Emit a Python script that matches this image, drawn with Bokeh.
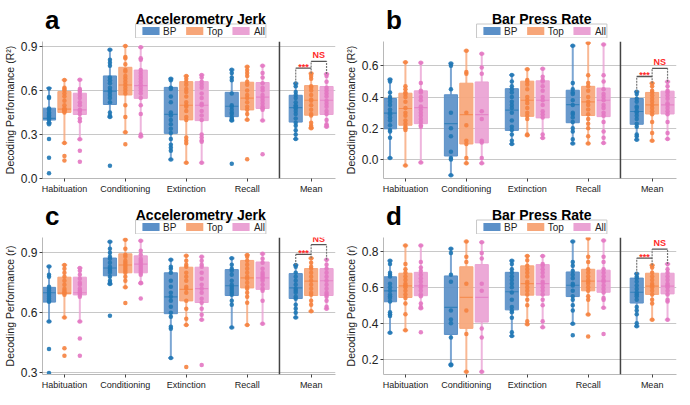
from bokeh.plotting import figure
from bokeh.models import (ColumnDataSource, FixedTicker, Span, Label,
                          NumeralTickFormatter)
from bokeh.core.properties import value
from bokeh.layouts import column, row
from bokeh.embed import file_html
from bokeh.resources import INLINE

# ---------------- data ----------------
categories = ["Habituation", "Conditioning", "Extinction", "Recall", "Mean"]
groups = ["BP", "Top", "All"]

# box stats per category: (whisker low, q1, median, q3, whisker high)
a_bp_box = [(0.378, 0.399, 0.41, 0.48, 0.618), (0.42, 0.505, 0.597, 0.70, 0.879),
            (0.129, 0.308, 0.437, 0.622, 0.68), (0.395, 0.422, 0.493, 0.588, 0.742),
            (0.27, 0.385, 0.484, 0.568, 0.649)]
a_top_box = [(0.243, 0.451, 0.474, 0.593, 0.672), (0.316, 0.57, 0.638, 0.759, 0.904),
             (0.108, 0.40, 0.50, 0.661, 0.70), (0.401, 0.468, 0.549, 0.657, 0.763),
             (0.343, 0.432, 0.534, 0.634, 0.717)]
a_all_box = [(0.268, 0.437, 0.468, 0.582, 0.674), (0.287, 0.547, 0.634, 0.74, 0.896),
             (0.108, 0.395, 0.50, 0.661, 0.707), (0.395, 0.478, 0.555, 0.655, 0.77),
             (0.353, 0.437, 0.534, 0.628, 0.713)]

b_bp_box = [(0.01, 0.197, 0.298, 0.391, 0.512), (-0.10, 0.023, 0.23, 0.415, 0.615),
            (0.10, 0.187, 0.317, 0.454, 0.541), (0.103, 0.236, 0.352, 0.444, 0.728),
            (0.127, 0.226, 0.308, 0.391, 0.434)]
b_top_box = [(-0.037, 0.22, 0.327, 0.425, 0.623), (-0.023, 0.10, 0.288, 0.489, 0.697),
             (0.156, 0.277, 0.38, 0.502, 0.578), (0.103, 0.282, 0.37, 0.469, 0.746),
             (0.121, 0.292, 0.35, 0.43, 0.489)]
b_all_box = [(-0.018, 0.23, 0.333, 0.44, 0.62), (-0.023, 0.107, 0.288, 0.497, 0.678),
             (0.138, 0.267, 0.38, 0.504, 0.582), (0.107, 0.275, 0.38, 0.458, 0.736),
             (0.132, 0.292, 0.35, 0.438, 0.498)]

c_bp_box = [(0.556, 0.653, 0.70, 0.727, 0.831), (0.744, 0.785, 0.824, 0.874, 0.956),
            (0.373, 0.595, 0.679, 0.80, 0.865), (0.526, 0.686, 0.735, 0.816, 0.873),
            (0.576, 0.671, 0.724, 0.796, 0.839)]
c_top_box = [(0.576, 0.694, 0.698, 0.778, 0.839), (0.727, 0.80, 0.839, 0.895, 0.966),
             (0.538, 0.659, 0.717, 0.828, 0.885), (0.538, 0.724, 0.775, 0.862, 0.889),
             (0.607, 0.686, 0.758, 0.821, 0.873)]
c_all_box = [(0.556, 0.689, 0.70, 0.778, 0.824), (0.747, 0.80, 0.843, 0.885, 0.961),
             (0.564, 0.651, 0.721, 0.828, 0.88), (0.544, 0.717, 0.775, 0.854, 0.895),
             (0.62, 0.686, 0.76, 0.821, 0.865)]

d_bp_box = [(0.346, 0.519, 0.58, 0.658, 0.748), (0.17, 0.337, 0.488, 0.663, 0.814),
            (0.329, 0.474, 0.575, 0.683, 0.748), (0.397, 0.548, 0.611, 0.685, 0.855),
            (0.383, 0.512, 0.572, 0.651, 0.675)]
d_top_box = [(0.36, 0.543, 0.608, 0.678, 0.832), (0.13, 0.371, 0.543, 0.714, 0.855),
             (0.394, 0.556, 0.62, 0.719, 0.774), (0.448, 0.58, 0.634, 0.70, 0.872),
             (0.419, 0.56, 0.606, 0.678, 0.723)]
d_all_box = [(0.483, 0.553, 0.608, 0.683, 0.832), (0.13, 0.406, 0.543, 0.726, 0.85),
             (0.377, 0.556, 0.62, 0.726, 0.774), (0.486, 0.572, 0.634, 0.695, 0.86),
             (0.419, 0.563, 0.606, 0.678, 0.73)]

# individual points per category
a_bp_pts = [[0.615, 0.557, 0.55, 0.478, 0.47, 0.45, 0.44, 0.43, 0.42, 0.41, 0.40, 0.38, 0.37, 0.27, 0.141, 0.035],
            [0.879, 0.81, 0.79, 0.77, 0.69, 0.67, 0.65, 0.62, 0.60, 0.59, 0.57, 0.55, 0.52, 0.45, 0.43, 0.42, 0.087],
            [0.68, 0.67, 0.62, 0.61, 0.56, 0.52, 0.45, 0.43, 0.40, 0.37, 0.34, 0.31, 0.27, 0.23, 0.21, 0.19, 0.129],
            [0.742, 0.72, 0.69, 0.67, 0.58, 0.50, 0.49, 0.47, 0.45, 0.44, 0.42, 0.41, 0.40, 0.395, 0.10],
            [0.649, 0.63, 0.59, 0.57, 0.55, 0.52, 0.50, 0.49, 0.48, 0.46, 0.44, 0.41, 0.38, 0.36, 0.33, 0.30, 0.27]]
a_top_pts = [[0.672, 0.62, 0.61, 0.60, 0.58, 0.56, 0.53, 0.50, 0.48, 0.47, 0.465, 0.46, 0.45, 0.243, 0.154, 0.123],
             [0.904, 0.83, 0.82, 0.78, 0.74, 0.73, 0.70, 0.68, 0.66, 0.64, 0.62, 0.60, 0.58, 0.50, 0.42, 0.316, 0.233],
             [0.70, 0.68, 0.66, 0.64, 0.61, 0.59, 0.56, 0.52, 0.50, 0.49, 0.46, 0.42, 0.40, 0.28, 0.26, 0.24, 0.108],
             [0.763, 0.74, 0.72, 0.70, 0.66, 0.64, 0.60, 0.57, 0.55, 0.52, 0.49, 0.47, 0.44, 0.401, 0.131],
             [0.717, 0.70, 0.68, 0.63, 0.62, 0.60, 0.57, 0.54, 0.53, 0.50, 0.47, 0.44, 0.43, 0.38, 0.36, 0.35, 0.343]]
a_all_pts = [[0.674, 0.61, 0.60, 0.59, 0.57, 0.55, 0.52, 0.50, 0.47, 0.46, 0.44, 0.41, 0.39, 0.268, 0.19, 0.114],
             [0.896, 0.82, 0.81, 0.74, 0.72, 0.70, 0.68, 0.66, 0.64, 0.62, 0.60, 0.58, 0.55, 0.50, 0.44, 0.30, 0.287],
             [0.707, 0.69, 0.66, 0.64, 0.62, 0.58, 0.55, 0.51, 0.50, 0.46, 0.43, 0.40, 0.30, 0.28, 0.26, 0.25, 0.108],
             [0.77, 0.72, 0.69, 0.65, 0.62, 0.60, 0.57, 0.55, 0.53, 0.51, 0.49, 0.48, 0.47, 0.395, 0.166],
             [0.713, 0.70, 0.66, 0.62, 0.60, 0.58, 0.56, 0.53, 0.51, 0.49, 0.46, 0.44, 0.40, 0.37, 0.36, 0.353]]

b_bp_pts = [[0.512, 0.50, 0.43, 0.40, 0.39, 0.37, 0.35, 0.32, 0.30, 0.29, 0.27, 0.25, 0.22, 0.19, 0.18, 0.14, 0.01],
            [0.615, 0.60, 0.45, 0.30, 0.20, 0.15, 0.05, 0.01, 0.00, -0.10],
            [0.541, 0.50, 0.47, 0.45, 0.43, 0.40, 0.37, 0.35, 0.33, 0.30, 0.25, 0.21, 0.19, 0.16, 0.12, 0.10],
            [0.728, 0.49, 0.45, 0.43, 0.42, 0.38, 0.35, 0.30, 0.29, 0.27, 0.24, 0.20, 0.18, 0.13, 0.103],
            [0.434, 0.42, 0.39, 0.37, 0.34, 0.33, 0.31, 0.30, 0.28, 0.26, 0.23, 0.21, 0.16, 0.15, 0.127]]
b_top_pts = [[0.623, 0.47, 0.45, 0.43, 0.42, 0.40, 0.37, 0.33, 0.30, 0.28, 0.25, 0.23, 0.21, 0.20, 0.19, -0.037],
             [0.697, 0.56, 0.55, 0.30, 0.22, 0.12, 0.10, 0.01, -0.023],
             [0.578, 0.51, 0.50, 0.48, 0.45, 0.40, 0.38, 0.36, 0.33, 0.30, 0.28, 0.26, 0.16, 0.156],
             [0.746, 0.54, 0.49, 0.47, 0.44, 0.40, 0.37, 0.35, 0.32, 0.29, 0.26, 0.23, 0.20, 0.15, 0.103],
             [0.489, 0.47, 0.44, 0.43, 0.41, 0.39, 0.37, 0.35, 0.33, 0.31, 0.29, 0.24, 0.17, 0.121]]
b_all_pts = [[0.62, 0.49, 0.44, 0.43, 0.40, 0.38, 0.34, 0.32, 0.30, 0.28, 0.26, 0.24, 0.22, 0.21, -0.018],
             [0.678, 0.59, 0.55, 0.31, 0.26, 0.12, 0.11, 0.01, -0.023],
             [0.582, 0.53, 0.51, 0.50, 0.47, 0.44, 0.40, 0.38, 0.35, 0.31, 0.29, 0.27, 0.16, 0.138],
             [0.736, 0.54, 0.50, 0.45, 0.42, 0.40, 0.38, 0.35, 0.33, 0.30, 0.28, 0.24, 0.18, 0.14, 0.107],
             [0.498, 0.47, 0.44, 0.43, 0.41, 0.39, 0.36, 0.35, 0.33, 0.31, 0.29, 0.24, 0.17, 0.132]]

c_bp_pts = [[0.831, 0.79, 0.78, 0.73, 0.72, 0.71, 0.70, 0.69, 0.68, 0.67, 0.66, 0.655, 0.556, 0.418, 0.297],
            [0.956, 0.92, 0.90, 0.88, 0.87, 0.85, 0.83, 0.82, 0.81, 0.80, 0.78, 0.76, 0.75, 0.744, 0.584],
            [0.865, 0.83, 0.82, 0.80, 0.76, 0.73, 0.70, 0.68, 0.66, 0.63, 0.60, 0.58, 0.53, 0.52, 0.373],
            [0.873, 0.84, 0.82, 0.81, 0.79, 0.76, 0.74, 0.73, 0.72, 0.71, 0.70, 0.69, 0.66, 0.64, 0.526],
            [0.839, 0.83, 0.80, 0.78, 0.76, 0.74, 0.72, 0.71, 0.70, 0.68, 0.67, 0.64, 0.62, 0.60, 0.576]]
c_top_pts = [[0.839, 0.82, 0.80, 0.78, 0.76, 0.74, 0.72, 0.71, 0.70, 0.70, 0.69, 0.576, 0.422, 0.384],
             [0.966, 0.92, 0.89, 0.88, 0.86, 0.85, 0.84, 0.83, 0.82, 0.81, 0.80, 0.78, 0.76, 0.727, 0.648],
             [0.885, 0.86, 0.84, 0.83, 0.80, 0.78, 0.76, 0.73, 0.72, 0.70, 0.66, 0.62, 0.57, 0.538, 0.327],
             [0.889, 0.88, 0.86, 0.84, 0.82, 0.80, 0.78, 0.77, 0.75, 0.73, 0.72, 0.70, 0.68, 0.65, 0.538],
             [0.873, 0.85, 0.83, 0.82, 0.80, 0.78, 0.76, 0.74, 0.72, 0.70, 0.69, 0.66, 0.64, 0.607]]
c_all_pts = [[0.824, 0.81, 0.79, 0.77, 0.75, 0.74, 0.72, 0.71, 0.70, 0.70, 0.69, 0.68, 0.556, 0.47, 0.384],
             [0.961, 0.91, 0.89, 0.87, 0.86, 0.85, 0.84, 0.83, 0.82, 0.81, 0.80, 0.79, 0.75, 0.747, 0.671],
             [0.88, 0.86, 0.84, 0.83, 0.80, 0.77, 0.74, 0.72, 0.70, 0.67, 0.65, 0.62, 0.59, 0.564, 0.338],
             [0.895, 0.87, 0.85, 0.82, 0.80, 0.79, 0.78, 0.77, 0.76, 0.74, 0.72, 0.71, 0.66, 0.544],
             [0.865, 0.84, 0.82, 0.80, 0.78, 0.76, 0.74, 0.72, 0.70, 0.69, 0.68, 0.66, 0.63, 0.62]]

d_bp_pts = [[0.748, 0.73, 0.68, 0.67, 0.66, 0.62, 0.60, 0.58, 0.56, 0.55, 0.54, 0.52, 0.46, 0.45, 0.44, 0.346],
            [0.814, 0.79, 0.67, 0.63, 0.47, 0.42, 0.40, 0.32, 0.17, 0.165],
            [0.748, 0.73, 0.70, 0.68, 0.66, 0.64, 0.62, 0.60, 0.57, 0.53, 0.49, 0.47, 0.46, 0.43, 0.35, 0.329],
            [0.855, 0.74, 0.72, 0.69, 0.67, 0.65, 0.62, 0.61, 0.58, 0.55, 0.53, 0.50, 0.47, 0.397, 0.332],
            [0.675, 0.66, 0.65, 0.63, 0.61, 0.59, 0.57, 0.56, 0.55, 0.53, 0.49, 0.47, 0.45, 0.40, 0.383]]
d_top_pts = [[0.832, 0.73, 0.70, 0.68, 0.66, 0.64, 0.62, 0.61, 0.60, 0.58, 0.56, 0.54, 0.51, 0.45, 0.36],
             [0.855, 0.77, 0.74, 0.62, 0.47, 0.34, 0.13],
             [0.774, 0.75, 0.72, 0.70, 0.68, 0.66, 0.63, 0.62, 0.60, 0.58, 0.56, 0.53, 0.50, 0.41, 0.394],
             [0.872, 0.77, 0.74, 0.70, 0.68, 0.66, 0.64, 0.63, 0.62, 0.60, 0.58, 0.55, 0.53, 0.448, 0.325],
             [0.723, 0.71, 0.68, 0.66, 0.64, 0.62, 0.61, 0.60, 0.58, 0.56, 0.53, 0.51, 0.419]]
d_all_pts = [[0.832, 0.74, 0.71, 0.69, 0.67, 0.65, 0.63, 0.61, 0.60, 0.58, 0.56, 0.55, 0.51, 0.49, 0.483, 0.349],
             [0.85, 0.79, 0.76, 0.62, 0.58, 0.37, 0.32, 0.13],
             [0.774, 0.73, 0.72, 0.70, 0.68, 0.66, 0.63, 0.62, 0.60, 0.58, 0.56, 0.53, 0.50, 0.41, 0.377],
             [0.86, 0.77, 0.74, 0.70, 0.68, 0.66, 0.64, 0.63, 0.61, 0.59, 0.57, 0.54, 0.53, 0.486, 0.34],
             [0.73, 0.70, 0.68, 0.66, 0.64, 0.62, 0.61, 0.60, 0.58, 0.56, 0.53, 0.52, 0.419]]

# significance bracket heights (BP vs Top "***", Top vs All "NS")
sig_a = (0.753, 0.80)
sig_b = (0.532, 0.584)
sig_c = (0.892, 0.941)
sig_d = (0.762, 0.812)

# y ticks
a_yticks = [0.0, 0.3, 0.6, 0.9]
b_yticks = [0.0, 0.2, 0.4, 0.6]
c_yticks = [0.3, 0.6, 0.9]
d_yticks = [0.2, 0.4, 0.6, 0.8]

# ---------------- styling ----------------
POINT_COLORS = {"BP": "#1f77b4", "Top": "#f5823f", "All": "#e377c2"}
BOX_COLORS = {"BP": "#5b90c8", "Top": "#f7a679", "All": "#eaa2d4"}
FONT = "Liberation Sans"
CAT_POS = [0, 1, 2, 3, 4.05]
OFFSETS = {"BP": -0.253, "Top": 0.0, "All": 0.253}
BOX_W = 0.215
CAP_W = 0.045
SEP_X = 3.53
X_RANGE = (-0.36, 4.45)
PANEL_W = 337
HEAD_H = 38
BORDER_L, FRAME_W, BORDER_R = 38, 293, 6
BORDER_T, FRAME_H, BORDER_B = 3, 137, 16
# legend layout in header pixels: patch / label offsets from legend's left edge
LEG_W, LEG_BOTTOM, LEG_TOP = 152, 0.5, 14.5
LEG_PATCH_X = [8, 59, 113]
LEG_TEXT_X = [32, 83, 138]


def make_header(letter, title):
    h = figure(width=PANEL_W, height=HEAD_H, x_range=(0, PANEL_W), y_range=(0, HEAD_H),
               x_axis_location=None, y_axis_location=None, title_location=None,
               output_backend="svg", toolbar_location=None, min_border=0)
    h.outline_line_color = None
    h.xgrid.visible = False
    h.ygrid.visible = False
    center = BORDER_L + FRAME_W / 2
    left = center - LEG_W / 2
    # legend frame
    h.quad(left=[left], right=[left + LEG_W], bottom=[LEG_BOTTOM], top=[LEG_TOP],
           fill_color="white", line_color="#c8c8c8", line_width=1)
    ymid = (LEG_BOTTOM + LEG_TOP) / 2
    h.quad(left=[left + dx for dx in LEG_PATCH_X], right=[left + dx + 20 for dx in LEG_PATCH_X],
           bottom=[ymid - 4] * 3, top=[ymid + 4] * 3,
           fill_color=[BOX_COLORS[g] for g in groups], line_color=None)
    h.text(x=[left + dx for dx in LEG_TEXT_X], y=[ymid] * 3, text=groups,
           text_font=value(FONT), text_font_size="10px",
           text_baseline="middle", text_align="left", text_color="#222222")
    h.add_layout(Label(x=center, y=20, text=title, text_font=FONT, text_font_size="14px",
                       text_font_style="bold", text_align="center", text_baseline="alphabetic",
                       text_color="black"))
    h.add_layout(Label(x=3, y=19, text=letter, text_font=FONT, text_font_size="26px",
                       text_font_style="bold", text_align="left", text_baseline="alphabetic",
                       text_color="black"))
    return h


def make_panel(ylabel, yrange, yticks, boxes, points, sig):
    p = figure(frame_width=FRAME_W, frame_height=FRAME_H, x_range=X_RANGE, y_range=yrange,
               title_location=None, output_backend="svg", toolbar_location=None)
    p.min_border_left = BORDER_L
    p.min_border_right = BORDER_R
    p.min_border_top = BORDER_T
    p.min_border_bottom = BORDER_B
    p.outline_line_color = None
    p.background_fill_color = "white"

    # axes
    p.xaxis.ticker = FixedTicker(ticks=CAT_POS)
    p.xaxis.major_label_overrides = {pos: name for pos, name in zip(CAT_POS, categories)}
    p.yaxis.ticker = FixedTicker(ticks=yticks)
    p.yaxis.formatter = NumeralTickFormatter(format="0.0")
    p.ygrid.ticker = FixedTicker(ticks=yticks)
    p.xgrid.visible = False
    p.ygrid.grid_line_color = "#c8c8c8"
    p.ygrid.grid_line_width = 1
    for ax in (p.xaxis[0], p.yaxis[0]):
        ax.axis_line_color = "#b8b8b8"
        ax.major_tick_line_color = "#444444"
        ax.major_tick_in = 0
        ax.major_tick_out = 3
        ax.minor_tick_line_color = None
        ax.major_label_text_font = FONT
        ax.major_label_text_color = "#222222"
        ax.major_label_standoff = 2
    p.xaxis.major_label_text_font_size = "9px"
    p.yaxis.major_label_text_font_size = "12px"
    p.yaxis.axis_label = ylabel
    p.yaxis.axis_label_text_font = FONT
    p.yaxis.axis_label_text_font_size = "10.5px"
    p.yaxis.axis_label_text_font_style = "normal"
    p.yaxis.axis_label_text_color = "#222222"
    p.yaxis.axis_label_standoff = 2

    # separator between sessions and mean
    p.add_layout(Span(location=SEP_X, dimension="height", line_color="#444444", line_width=1.5))

    for g in groups:
        pc, bc = POINT_COLORS[g], BOX_COLORS[g]
        st = boxes[g]
        xs = [cp + OFFSETS[g] for cp in CAT_POS]
        src = ColumnDataSource(dict(
            x=xs,
            lo=[s[0] for s in st], q1=[s[1] for s in st], med=[s[2] for s in st],
            q3=[s[3] for s in st], hi=[s[4] for s in st],
            xl=[x - CAP_W for x in xs], xr=[x + CAP_W for x in xs],
            bl=[x - BOX_W / 2 for x in xs], br=[x + BOX_W / 2 for x in xs],
        ))
        for y0, y1 in (("lo", "q1"), ("q3", "hi")):
            p.segment(x0="x", y0=y0, x1="x", y1=y1, source=src, line_color=bc, line_alpha=0.8, line_width=2)
        for y in ("lo", "hi"):
            p.segment(x0="xl", y0=y, x1="xr", y1=y, source=src, line_color=bc, line_alpha=0.8, line_width=2)
        p.vbar(x="x", width=BOX_W, bottom="q1", top="q3", source=src,
               fill_color=bc, fill_alpha=0.92, line_color=bc, line_alpha=1.0, line_width=1)
        p.segment(x0="bl", y0="med", x1="br", y1="med", source=src, line_color=pc, line_alpha=0.7, line_width=1.2)
        px, py = [], []
        for x, vals in zip(xs, points[g]):
            px += [x] * len(vals)
            py += vals
        p.scatter(px, py, size=4.5, fill_color=pc, line_color=pc, line_alpha=0.0, fill_alpha=0.9)

    # significance brackets on the Mean group
    xm = CAT_POS[4]
    xb, xt, xa = xm + OFFSETS["BP"], xm + OFFSETS["Top"], xm + OFFSETS["All"]
    hb, ht, ha = boxes["BP"][4][4], boxes["Top"][4][4], boxes["All"][4][4]
    sy, ny = sig
    vsrc = ColumnDataSource(dict(x0=[xb, xt, xa], y0=[hb, ht, ha], y1=[sy, ny, ny]))
    p.segment(x0="x0", y0="y0", x1="x0", y1="y1", source=vsrc,
              line_color="#777777", line_width=1.2, line_dash="2 1")
    hsrc = ColumnDataSource(dict(x0=[xb, xt], x1=[xt, xa], y=[sy, ny]))
    p.segment(x0="x0", y0="y", x1="x1", y1="y", source=hsrc, line_color="#555555", line_width=1.3)
    p.text(x=[(xb + xt) / 2], y=[sy], text=["***"], text_align="center", text_baseline="middle",
           text_font=value(FONT), text_color="#ff2a2a", text_font_size="9px",
           text_font_style="bold", y_offset=-1)
    p.text(x=[(xt + xa) / 2], y=[ny], text=["NS"], text_align="center", text_baseline="bottom",
           text_font=value(FONT), text_color="#ff2a2a", text_font_size="9px",
           text_font_style="bold", y_offset=-1)
    return p


ha = make_header("a", "Accelerometry Jerk")
hb = make_header("b", "Bar Press Rate")
hc = make_header("c", "Accelerometry Jerk")
hd = make_header("d", "Bar Press Rate")

pa = make_panel("Decoding Performance (R²)", (0.0, 0.935), a_yticks,
                {"BP": a_bp_box, "Top": a_top_box, "All": a_all_box},
                {"BP": a_bp_pts, "Top": a_top_pts, "All": a_all_pts}, sig_a)
pb = make_panel("Decoding Performance (R²)", (-0.121, 0.756), b_yticks,
                {"BP": b_bp_box, "Top": b_top_box, "All": b_all_box},
                {"BP": b_bp_pts, "Top": b_top_pts, "All": b_all_pts}, sig_b)
pc = make_panel("Decoding Performance (r)", (0.29, 0.977), c_yticks,
                {"BP": c_bp_box, "Top": c_top_box, "All": c_all_box},
                {"BP": c_bp_pts, "Top": c_top_pts, "All": c_all_pts}, sig_c)
pd = make_panel("Decoding Performance (r)", (0.114, 0.877), d_yticks,
                {"BP": d_bp_box, "Top": d_top_box, "All": d_all_box},
                {"BP": d_bp_pts, "Top": d_top_pts, "All": d_all_pts}, sig_d)

layout = column(row(column(ha, pa), column(hb, pb)), row(column(hc, pc), column(hd, pd)))
open("out.html", "w").write(file_html(layout, INLINE))
